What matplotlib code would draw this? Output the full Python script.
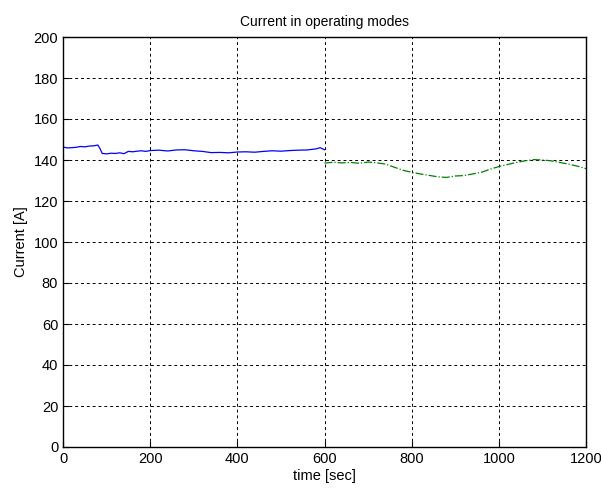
import matplotlib
matplotlib.use("Agg")
import matplotlib.pyplot as plt

# mode 1 (0..600 s)
t1 = [0, 10, 20, 30, 40, 50, 60, 70, 80, 85, 90, 100, 110, 120, 130, 140, 150, 160, 170, 180,
      190, 200, 220, 240, 260, 280, 300, 320, 340, 360, 380, 400, 420, 440, 460, 480, 500, 520,
      540, 560, 580, 590, 600]
i1 = [146.3, 145.9, 146.0, 146.2, 146.6, 146.4, 146.8, 146.9, 147.3, 145.5, 143.2, 143.0, 143.3,
      143.2, 143.5, 143.1, 144.2, 144.0, 144.3, 144.5, 144.2, 144.6, 144.8, 144.4, 144.9, 145.0,
      144.5, 144.2, 143.6, 143.7, 143.5, 143.9, 144.0, 143.8, 144.2, 144.5, 144.3, 144.6, 144.8,
      144.9, 145.4, 146.0, 145.0]

# mode 2 (600..1200 s)
t2 = [600, 620, 640, 660, 680, 700, 720, 740, 760, 780, 800, 820, 840, 860, 880, 900, 920, 940,
      960, 980, 1000, 1020, 1040, 1060, 1080, 1100, 1120, 1140, 1160, 1180, 1200]
i2 = [138.5, 138.9, 138.6, 138.8, 138.4, 139.0, 138.6, 138.0, 136.5, 135.0, 134.0, 133.2, 132.5,
      131.8, 131.5, 132.2, 132.4, 133.2, 134.0, 135.5, 136.8, 137.8, 138.8, 139.6, 140.2, 140.0,
      139.6, 138.8, 138.0, 137.0, 135.8]

plt.rcParams['font.family'] = ['Liberation Sans', 'DejaVu Sans']
plt.rcParams['font.size'] = 10

fig = plt.figure(figsize=(6.01, 4.88), dpi=100)
ax = fig.add_axes([63 / 601, 1 - 447 / 488, 523 / 601, 410 / 488])

ax.plot(t1, i1, color='blue', lw=0.9)
ax.plot(t2, i2, color='#008000', lw=0.9, linestyle='-.')

ax.set_xlim(0, 1200)
ax.set_ylim(0, 200)
ax.set_xticks(range(0, 1201, 200))
ax.set_yticks(range(0, 201, 20))
ax.tick_params(direction='in', length=4, width=0.8, labelsize=10.5)
ax.grid(True, color='black', linestyle=(0, (3, 3)), linewidth=0.7)
for s in ax.spines.values():
    s.set_linewidth(1.0)

ax.set_title("Current in operating modes", fontsize=10, pad=8)
ax.set_xlabel("time [sec]", fontsize=10.5, labelpad=2)
ax.set_ylabel("Current [A]", fontsize=10.5, labelpad=4)

fig.savefig("out.png", dpi=100)
